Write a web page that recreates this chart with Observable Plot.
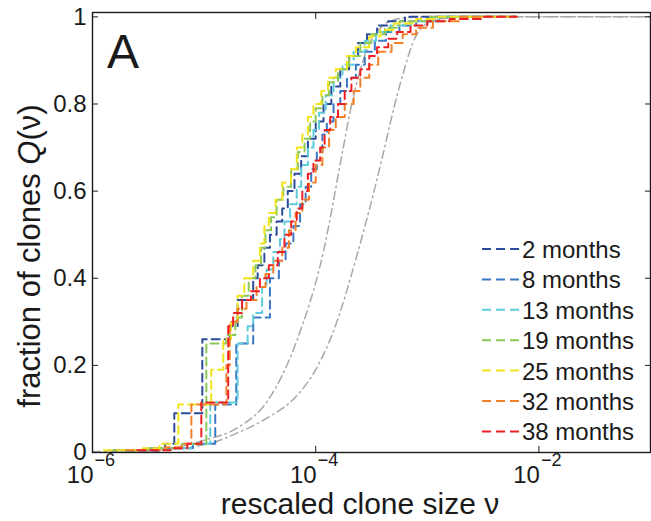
<!DOCTYPE html>
<html><head><meta charset="utf-8">
<script src="https://cdn.jsdelivr.net/npm/d3@7"></script>
<script src="https://cdn.jsdelivr.net/npm/@observablehq/plot@0.6"></script>
<style>body{margin:0;background:#fff;}</style>
</head><body><div id="chart"></div>
<script>
// ---- data (x given as log10 of rescaled clone size ν) ----
const seriesNames = ["2 months","8 months","13 months","19 months","25 months","32 months","38 months"];
const seriesColors = ["#2b4c9b","#3b78c4","#5ccbdc","#8dc65a","#f0e41c","#f2802a","#ee2024"];

const logNu2 = [-5.8,-5.5,-5.35,-5.267,-5.016,-4.77,-4.70,-4.56,-4.52,-4.46,-4.41,-4.35,-4.30,-4.25,-4.19,-4.13,-4.07,-4.00,-3.93,-3.86,-3.78,-3.70,-3.62,-3.54,-3.45,-3.35,-3.2,-2.2];
const q2     = [0.005,0.01,0.02,0.09,0.26,0.29,0.35,0.40,0.43,0.47,0.50,0.53,0.56,0.60,0.64,0.68,0.72,0.76,0.80,0.84,0.88,0.91,0.94,0.96,0.98,0.99,1.0,1.0];

const logNu8 = [-5.7,-5.4,-5.1,-4.90,-4.712,-4.56,-4.41,-4.33,-4.27,-4.20,-4.14,-4.09,-4.04,-3.99,-3.94,-3.90,-3.84,-3.78,-3.72,-3.64,-3.56,-3.47,-3.37,-3.25,-3.1,-2.9,-2.2];
const q8     = [0.004,0.01,0.02,0.11,0.25,0.31,0.40,0.44,0.48,0.52,0.57,0.61,0.65,0.69,0.73,0.76,0.80,0.83,0.86,0.89,0.92,0.945,0.965,0.98,0.99,1.0,1.0];

const logNu13 = [-5.75,-5.4,-5.1,-4.945,-4.70,-4.61,-4.56,-4.48,-4.44,-4.38,-4.32,-4.28,-4.23,-4.17,-4.13,-4.07,-4.02,-3.97,-3.91,-3.84,-3.76,-3.66,-3.56,-3.46,-3.33,-3.15,-2.9,-2.2];
const q13     = [0.005,0.01,0.02,0.115,0.25,0.29,0.32,0.38,0.42,0.46,0.49,0.53,0.57,0.61,0.66,0.70,0.74,0.78,0.82,0.86,0.89,0.92,0.945,0.965,0.98,0.99,1.0,1.0];

const logNu19 = [-5.85,-5.5,-5.2,-4.98,-4.80,-4.72,-4.66,-4.60,-4.54,-4.49,-4.45,-4.40,-4.35,-4.29,-4.22,-4.16,-4.10,-4.05,-4.00,-3.94,-3.88,-3.80,-3.70,-3.60,-3.50,-3.38,-3.25,-3.0,-2.2];
const q19     = [0.005,0.01,0.02,0.25,0.27,0.31,0.36,0.40,0.43,0.47,0.51,0.54,0.58,0.61,0.65,0.69,0.72,0.76,0.79,0.82,0.85,0.88,0.91,0.94,0.96,0.975,0.99,1.0,1.0];

const logNu25 = [-5.9,-5.55,-5.4,-5.231,-4.936,-4.828,-4.76,-4.70,-4.64,-4.56,-4.50,-4.46,-4.42,-4.36,-4.30,-4.22,-4.17,-4.12,-4.07,-4.02,-3.95,-3.89,-3.82,-3.72,-3.64,-3.52,-3.42,-3.30,-3.1,-2.9,-2.2];
const q25     = [0.005,0.01,0.02,0.11,0.19,0.26,0.30,0.36,0.40,0.44,0.48,0.52,0.55,0.58,0.62,0.65,0.70,0.73,0.77,0.80,0.83,0.86,0.88,0.91,0.93,0.955,0.97,0.985,0.995,1.0,1.0];

const logNu32 = [-5.7,-5.35,-5.2,-5.114,-4.80,-4.77,-4.70,-4.62,-4.53,-4.45,-4.38,-4.30,-4.24,-4.18,-4.12,-4.06,-4.00,-3.94,-3.88,-3.82,-3.74,-3.66,-3.60,-3.52,-3.44,-3.32,-3.22,-3.1,-2.95,-2.7,-2.2];
const q32     = [0.005,0.012,0.02,0.11,0.20,0.30,0.33,0.35,0.38,0.41,0.44,0.47,0.51,0.55,0.58,0.62,0.66,0.70,0.74,0.77,0.80,0.83,0.86,0.89,0.92,0.94,0.96,0.975,0.99,1.0,1.0];

const logNu38 = [-5.6,-5.3,-5.15,-5.025,-4.784,-4.74,-4.66,-4.58,-4.50,-4.42,-4.34,-4.28,-4.22,-4.17,-4.12,-4.07,-4.02,-3.96,-3.92,-3.87,-3.80,-3.74,-3.68,-3.60,-3.52,-3.45,-3.35,-3.27,-3.15,-3.0,-2.8,-2.5,-2.2];
const q38     = [0.005,0.01,0.02,0.115,0.29,0.32,0.35,0.37,0.40,0.43,0.46,0.50,0.53,0.56,0.60,0.64,0.67,0.70,0.74,0.77,0.80,0.83,0.86,0.88,0.91,0.93,0.95,0.965,0.98,0.99,0.995,1.0,1.0];

// theoretical curves (grey dash-dot)
const theoryALogNu = [-6.0,-5.5,-5.2,-5.0,-4.7,-4.43,-4.17,-3.93,-3.76,-3.69,-3.54,-3.42,-3.3,-3.15,-3.0,-1.0];
const theoryAQ     = [0.002,0.006,0.015,0.028,0.057,0.119,0.256,0.462,0.69,0.784,0.925,0.975,0.993,0.999,1.0,1.0];
const theoryBLogNu = [-6.0,-5.5,-5.2,-4.92,-4.7,-4.43,-4.17,-4.0,-3.84,-3.62,-3.41,-3.30,-3.2,-3.13,-3.05,-2.9,-2.6,-1.0];
const theoryBQ     = [0.001,0.004,0.01,0.023,0.045,0.08,0.13,0.19,0.279,0.462,0.67,0.79,0.885,0.94,0.975,0.995,1.0,1.0];

const xTickExps = [-6,-4,-2];
const yTickVals = [0,0.2,0.4,0.6,0.8,1];
const yTickLabels = ["0","0.2","0.4","0.6","0.8","1"];

// ---- build tables ----
const seriesLog = [logNu2,logNu8,logNu13,logNu19,logNu25,logNu32,logNu38];
const seriesQ = [q2,q8,q13,q19,q25,q32,q38];
const seriesRows = seriesNames.map((name,i)=>seriesLog[i].map((l,j)=>({series:name, nu:Math.pow(10,l), q:seriesQ[i][j]})));
const theoryA = theoryALogNu.map((l,j)=>({nu:Math.pow(10,l), q:theoryAQ[j]}));
const theoryB = theoryBLogNu.map((l,j)=>({nu:Math.pow(10,l), q:theoryBQ[j]}));

const FONT = "Liberation Sans, Arial, Helvetica, sans-serif";
const INK = "#1a1a1a";
const xTickVals = xTickExps.map(e=>Math.pow(10,e));

const plot = Plot.plot({
  width: 651, height: 521,
  marginLeft: 92, marginRight: 1, marginTop: 12, marginBottom: 69,
  x: {type: "log", domain: [1e-6, 1e-1], axis: null},
  y: {domain: [0, 1.01], axis: null},
  style: {fontFamily: FONT, background: "#fff", color: INK},
  marks: [
    Plot.line(theoryA, {x: "nu", y: "q", stroke: "#a8a8a8", strokeWidth: 1.5, strokeDasharray: "8,4,1.5,4", curve: "monotone-x"}),
    Plot.line(theoryB, {x: "nu", y: "q", stroke: "#a8a8a8", strokeWidth: 1.5, strokeDasharray: "8,4,1.5,4", curve: "monotone-x"}),
    ...seriesRows.map((rows,i)=>Plot.line(rows, {x: "nu", y: "q", stroke: seriesColors[i], strokeWidth: 2, strokeDasharray: "8,5", curve: "step-after"})),
    Plot.frame({stroke: INK, strokeWidth: 1.4}),
    Plot.axisX({anchor: "bottom", ticks: xTickVals, tickSize: -6, tickFormat: () => "", label: null, stroke: INK}),
    Plot.axisX({anchor: "top", ticks: xTickVals, tickSize: -6, tickFormat: () => "", label: null, stroke: INK}),
    Plot.axisY({anchor: "left", ticks: yTickVals, tickSize: -6, tickFormat: () => "", label: null, stroke: INK}),
    Plot.axisY({anchor: "right", ticks: yTickVals, tickSize: -6, tickFormat: () => "", label: null, stroke: INK}),
    Plot.text(yTickVals, {y: d=>d, frameAnchor: "left", dx: -6, textAnchor: "end", text: (d,i)=>yTickLabels[i], fontSize: 24, fill: INK}),
    Plot.text(xTickExps, {x: e=>Math.pow(10,e), frameAnchor: "bottom", dy: 30, dx: 1, textAnchor: "end", text: () => "10", fontSize: 24, fill: INK}),
    Plot.text(xTickExps, {x: e=>Math.pow(10,e), frameAnchor: "bottom", dy: 13, dx: 2, textAnchor: "start", text: e => "\u2212" + Math.abs(e), fontSize: 18, fill: INK})
  ]
});
document.getElementById("chart").appendChild(plot);

// ---- annotations: panel letter, axis titles, legend ----
const svg = d3.select(plot);
svg.append("text").attr("x", 107).attr("y", 68).attr("text-anchor", "start").attr("font-family", FONT).attr("font-size", 48).attr("fill", INK).text("A");

svg.append("text").attr("x", 360).attr("y", 514).attr("text-anchor", "middle")
  .attr("font-family", FONT).attr("font-size", 30).attr("fill", INK).text("rescaled clone size \u03bd");

const yt = svg.append("text").attr("transform", "translate(40,256) rotate(-90)").attr("text-anchor", "middle")
  .attr("font-family", FONT).attr("font-size", 31).attr("fill", INK);
yt.append("tspan").text("fraction of clones ");
yt.append("tspan").attr("font-style", "italic").text("Q");
yt.append("tspan").text("(\u03bd)");

const legend = svg.append("g");
seriesNames.forEach((name,i)=>{
  const cy = 249 + i*30.4;
  legend.append("line").attr("x1", 482).attr("x2", 519).attr("y1", cy).attr("y2", cy)
    .attr("stroke", seriesColors[i]).attr("stroke-width", 2).attr("stroke-dasharray", "9,5");
  legend.append("text").attr("x", 522).attr("y", cy + 9).attr("text-anchor", "start").attr("font-family", FONT).attr("font-size", 24).attr("fill", INK).text(name);
});
</script>
</body></html>
